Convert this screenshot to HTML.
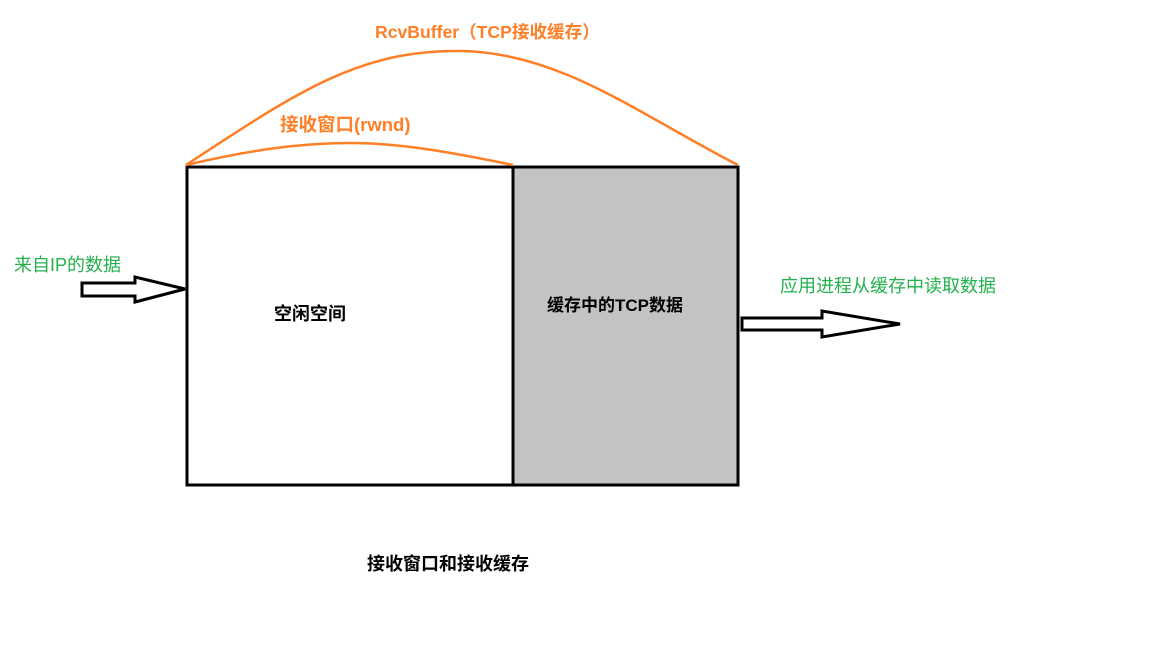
<!DOCTYPE html>
<html><head><meta charset="utf-8"><style>
body{margin:0;background:#fff;width:1152px;height:648px;overflow:hidden}
svg{display:block}
text{font-family:"Liberation Sans","Noto Sans CJK SC","Microsoft YaHei",sans-serif}
</style></head><body>
<svg width="1152" height="648" viewBox="0 0 1152 648" xmlns="http://www.w3.org/2000/svg">
<rect x="513" y="167" width="225" height="318" fill="#c3c3c3"/>
<rect x="187" y="167" width="551" height="318" fill="none" stroke="#000" stroke-width="3"/>
<line x1="513" y1="167" x2="513" y2="486" stroke="#000" stroke-width="3"/>
<path d="M186,165 C300,90 360,50 460,51 C560,52 640,115 738,165" fill="none" stroke="#ff7f27" stroke-width="2.5"/>
<path d="M186,165 C250,150 300,143 350,143 C400,143 450,152 513,165" fill="none" stroke="#ff7f27" stroke-width="2.5"/>
<polygon points="82,283 135,283 135,277 185,289 135,302 135,296 82,296" fill="#fff" stroke="#000" stroke-width="3"/>
<polygon points="742,318 822,318 822,311 900,324 822,337 822,330 742,330" fill="#fff" stroke="#000" stroke-width="3"/>
<text x="375" y="38" font-size="17.6" font-weight="bold" fill="#ff7f27">RcvBuffer（TCP接收缓存）</text>
<text x="280" y="131" font-size="18.5" font-weight="bold" fill="#ff7f27">接收窗口(rwnd)</text>
<text x="14" y="271" font-size="18" fill="#22b14c">来自IP的数据</text>
<text x="780" y="292" font-size="18" fill="#22b14c">应用进程从缓存中读取数据</text>
<text x="274" y="320" font-size="18" font-weight="bold" fill="#000">空闲空间</text>
<text x="547" y="311" font-size="17" font-weight="bold" fill="#000">缓存中的TCP数据</text>
<text x="367" y="570" font-size="18" font-weight="bold" fill="#000">接收窗口和接收缓存</text>
</svg>
</body></html>
